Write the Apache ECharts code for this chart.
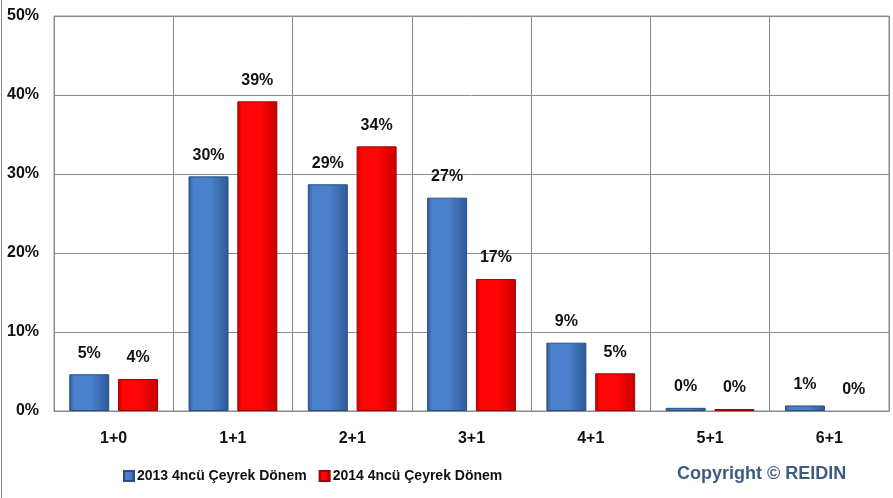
<!DOCTYPE html>
<html>
<head>
<meta charset="utf-8">
<script src="https://cdn.jsdelivr.net/npm/echarts@6/dist/echarts.min.js"></script>
<style>
  html, body { margin: 0; padding: 0; background: #ffffff; }
  #chart { width: 893px; height: 498px; }
</style>
</head>
<body>
<div id="chart"></div>
<script>
// Room-count categories and the share of sales in each quarter
const categories = ['1+0', '1+1', '2+1', '3+1', '4+1', '5+1', '6+1'];
const series2013 = [4.65, 29.7, 28.7, 27.0, 8.65, 0.4, 0.7];
const series2014 = [4.05, 39.2, 33.5, 16.7, 4.77, 0.25, 0];
const seriesNames = ['2013 4ncü Çeyrek Dönem', '2014 4ncü Çeyrek Dönem'];
const yTicks = [0, 10, 20, 30, 40, 50];

const FONT = "'Liberation Sans', Arial, sans-serif";

function barFill(edge, mid) {
  return new echarts.graphic.LinearGradient(0, 0, 1, 0, [
    { offset: 0, color: edge },
    { offset: 0.12, color: mid },
    { offset: 0.55, color: mid },
    { offset: 1, color: edge }
  ]);
}

const valueLabel = {
  show: true,
  position: 'top',
  distance: 13,
  color: '#111',
  fontFamily: FONT,
  fontWeight: 'bold',
  fontSize: 16,
  formatter: p => Math.round(p.value) + '%'
};

// a zero share gets no visible bar outline, only its label
const noOutlineAtZero = v => (v === 0 ? { value: v, itemStyle: { borderWidth: 0 } } : v);

const chart = echarts.init(document.getElementById('chart'), null, { renderer: 'canvas' });
chart.setOption({
  animation: false,
  backgroundColor: '#ffffff',
  grid: { left: 54, right: 4, top: 16, bottom: 87, show: true, borderColor: '#8a8a8a', borderWidth: 1 },
  legend: {
    data: seriesNames,
    left: 118,
    top: 464,
    itemWidth: 10,
    itemHeight: 10,
    itemGap: 12,
    icon: 'rect',
    textStyle: { color: '#111', fontFamily: FONT, fontWeight: 'bold', fontSize: 14, padding: [0, 0, 0, -2] }
  },
  xAxis: {
    type: 'category',
    data: categories,
    axisTick: { show: false },
    axisLine: { lineStyle: { color: '#8a8a8a', width: 1 } },
    splitLine: { show: true, interval: 0, lineStyle: { color: '#8a8a8a', width: 1 } },
    axisLabel: { margin: 20, color: '#111', fontFamily: FONT, fontWeight: 'bold', fontSize: 16 }
  },
  yAxis: {
    type: 'value',
    min: yTicks[0],
    max: yTicks[yTicks.length - 1],
    interval: 10,
    axisLine: { show: false },
    axisTick: { show: false },
    splitLine: { lineStyle: { color: '#8a8a8a', width: 1 } },
    axisLabel: { margin: 15, color: '#111', fontFamily: FONT, fontWeight: 'bold', fontSize: 16, formatter: '{value}%' }
  },
  graphic: [
    { type: 'line', shape: { x1: 1.5, y1: 0, x2: 1.5, y2: 498 }, style: { stroke: '#8a8a8a', lineWidth: 1 } },
    {
      type: 'text', left: 677, top: 465,
      style: { text: 'Copyright © REIDIN', fill: '#3d5c80', font: "bold 18px " + FONT }
    }
  ],
  series: [
    {
      name: seriesNames[0],
      type: 'bar',
      data: series2013.map(noOutlineAtZero),
      barWidth: 40,
      barGap: '22%',
      itemStyle: { color: barFill('#2d5a96', '#4a80cc'), borderColor: '#2a4f80', borderWidth: 1 },
      label: valueLabel
    },
    {
      name: seriesNames[1],
      type: 'bar',
      data: series2014.map(noOutlineAtZero),
      barWidth: 40,
      itemStyle: { color: barFill('#c80000', '#ff0505'), borderColor: '#a00000', borderWidth: 1 },
      label: valueLabel
    }
  ]
});
</script>
</body>
</html>
